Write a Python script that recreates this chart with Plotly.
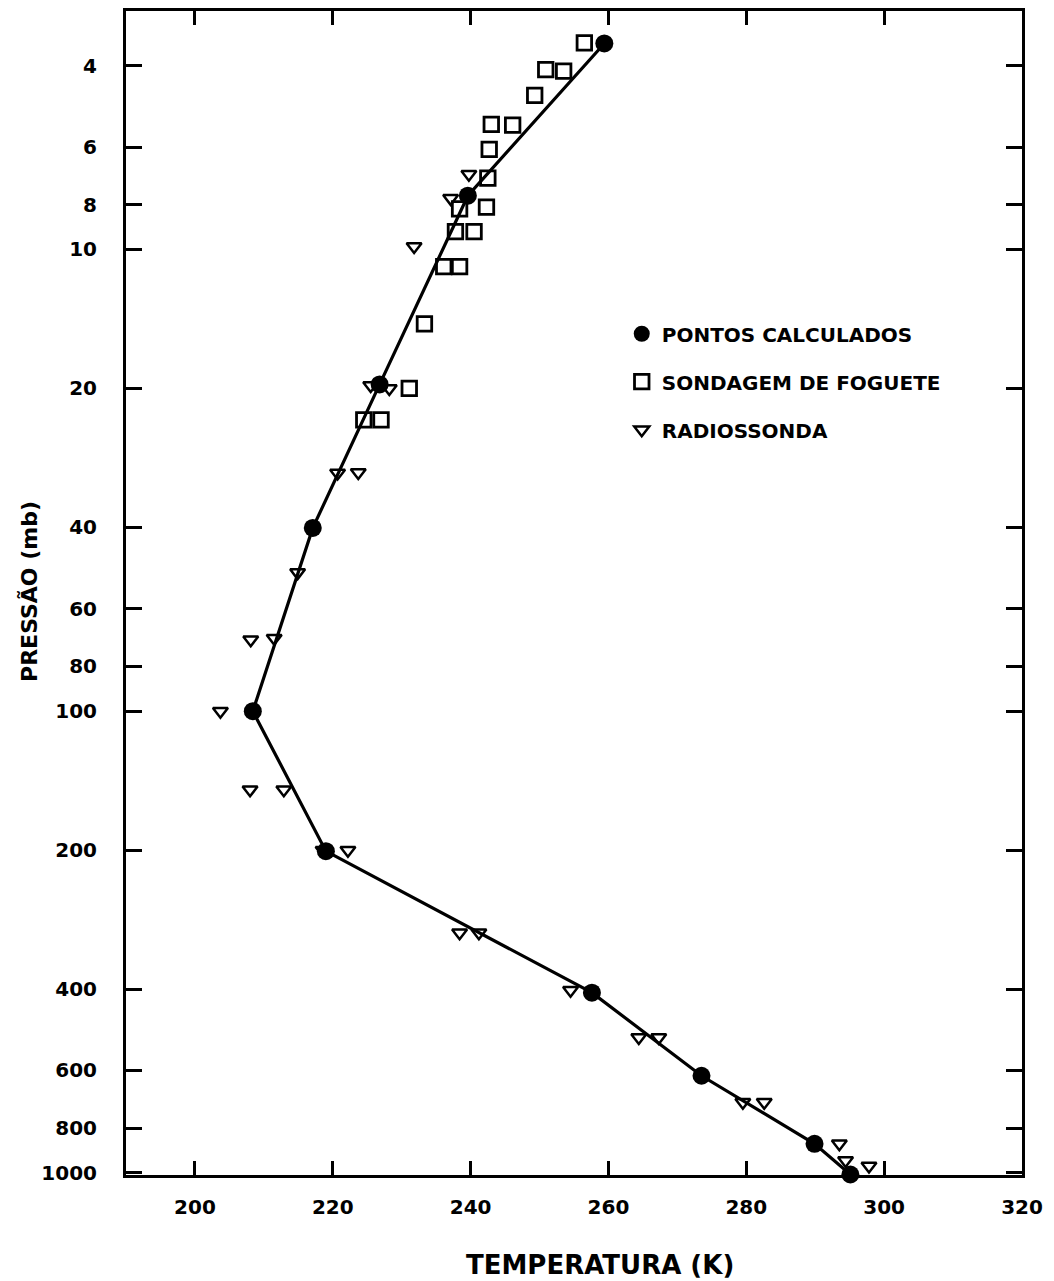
import plotly.graph_objects as go
import math

# ---- data ----
calc_T = [259.4, 239.6, 226.8, 217.1, 208.4, 219.0, 257.6, 273.5, 289.9, 295.1]
calc_P = [3.58, 7.65, 19.6, 40.1, 100, 201, 407, 616, 865, 1008]

rocket_T = [256.5, 250.9, 253.5, 249.3, 243.0, 246.1, 242.7, 242.5, 242.3, 238.4,
            237.8, 240.5, 236.1, 238.4, 233.3, 231.1, 224.5, 227.0]
rocket_P = [3.57, 4.08, 4.11, 4.64, 5.36, 5.38, 6.07, 7.01, 8.10, 8.17,
            9.15, 9.15, 10.9, 10.9, 14.5, 20.0, 23.4, 23.4]

radio_T = [239.75, 237.1, 231.8, 225.5, 228.2, 220.7, 223.7, 214.9, 208.1, 211.5,
           203.7, 208.0, 212.9, 218.6, 222.2, 238.4, 241.2, 254.5, 264.4, 267.3,
           279.5, 282.6, 293.5, 294.4, 297.8]
radio_P = [6.87, 7.75, 9.85, 19.7, 20.0, 30.5, 30.4, 50.1, 70.0, 69.5,
           100, 148, 148, 200, 200, 302, 302, 402, 509, 509,
           703, 703, 865, 940, 966]

x_ticks = [200, 220, 240, 260, 280, 300, 320]
y_ticks = [4, 6, 8, 10, 20, 40, 60, 80, 100, 200, 400, 600, 800, 1000]
y_ticktext = [str(v) for v in y_ticks]

names = ["PONTOS CALCULADOS", "SONDAGEM DE FOGUETE", "RADIOSSONDA"]
x_title = "TEMPERATURA (K)"
y_title = "PRESSÃO (mb)"

FONT = "DejaVu Sans"

fig = go.Figure()
fig.add_trace(go.Scatter(x=calc_T, y=calc_P, mode="lines",
                         line=dict(color="black", width=3.2),
                         showlegend=False, hoverinfo="skip", cliponaxis=False))
fig.add_trace(go.Scatter(x=calc_T, y=calc_P, mode="markers", name=names[0],
                         legendgroup="a", cliponaxis=False,
                         marker=dict(symbol="circle", size=18, color="black")))
fig.add_trace(go.Scatter(x=rocket_T, y=rocket_P, mode="markers", name=names[1],
                         legendgroup="b", cliponaxis=False,
                         marker=dict(symbol="square-open", size=14.5, color="black",
                                     line=dict(width=2.8, color="black"))))
fig.add_trace(go.Scatter(x=radio_T, y=radio_P, mode="markers", name=names[2],
                         legendgroup="c", cliponaxis=False,
                         marker=dict(symbol="triangle-down-open", size=13, color="black",
                                     line=dict(width=2.5, color="black"))))

axis_common = dict(
    showline=True, linewidth=3, linecolor="black", mirror="ticks",
    ticks="inside", tickwidth=2.5, tickcolor="black",
    showgrid=False, zeroline=False,
    tickfont=dict(family=FONT, size=20, color="black", weight="bold"),
)

fig.update_xaxes(range=[190, 320], tickvals=x_ticks, ticklen=14,
                 ticklabelstandoff=12, **axis_common)
fig.update_yaxes(type="log", range=[math.log10(1010.5), 0.4836],
                 tickvals=y_ticks, ticktext=y_ticktext,
                 ticklen=16, ticklabelstandoff=22, **axis_common)

fig.add_annotation(text=x_title, xref="paper", yref="paper",
                   x=0.529, y=-0.077, xanchor="center", yanchor="middle",
                   showarrow=False,
                   font=dict(family=FONT, size=26, color="black", weight="bold"))
fig.add_annotation(text=y_title, xref="paper", yref="paper", textangle=-90,
                   x=-0.107, y=0.501, xanchor="center", yanchor="middle",
                   showarrow=False,
                   font=dict(family=FONT, size=22, color="black", weight="bold"))

fig.update_layout(
    width=1054, height=1281,
    margin=dict(l=126, r=32, t=8, b=106),
    paper_bgcolor="white", plot_bgcolor="white",
    font=dict(family=FONT, color="black"),
    legend=dict(x=0.5533, y=0.7395, xanchor="left", yanchor="top",
                bgcolor="rgba(0,0,0,0)", borderwidth=0,
                font=dict(family=FONT, size=20, color="black", weight="bold"),
                tracegroupgap=19),
    showlegend=True,
)

fig.write_html("out.html")
